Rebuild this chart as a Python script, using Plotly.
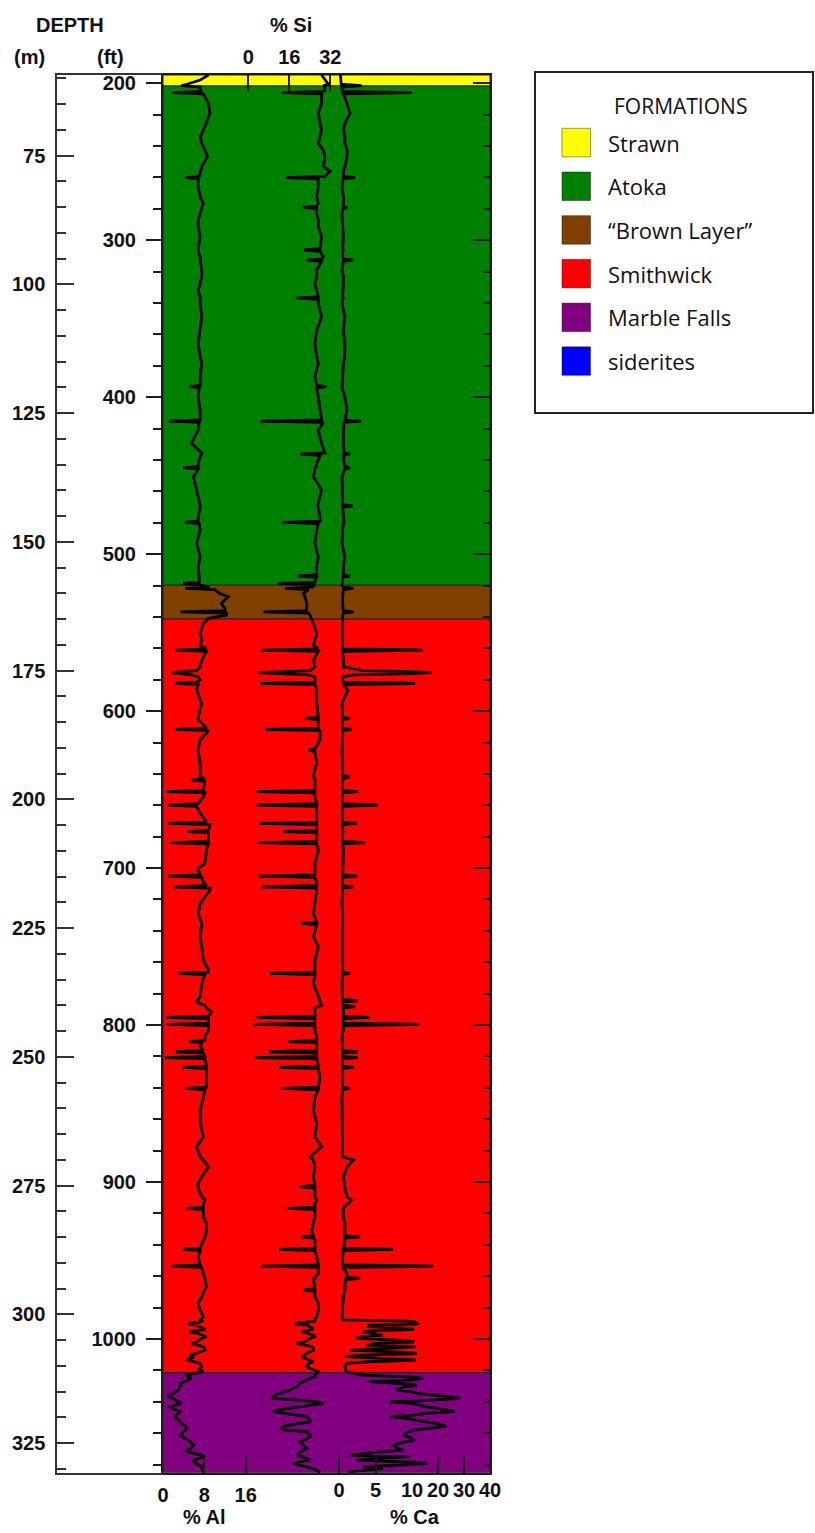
import plotly.graph_objects as go

# ---------------------------------------------------------------------------
# Geochemical log: depth (ft) with % Al, % Si and % Ca readings
# ---------------------------------------------------------------------------
depth_ft = [
    194.7, 197.9, 200.6, 201.5, 202.4, 204.3, 205.1, 205.9, 206.7, 212.8,
    219.1, 225.5, 229.8, 234.0, 238.3, 242.5, 246.8, 253.1, 256.0, 259.3,
    260.1, 260.9, 265.9, 272.2, 276.5, 278.2, 279.0, 279.8, 282.9, 287.1,
    291.4, 297.7, 305.4, 306.2, 307.0, 310.5, 311.8, 312.6, 313.4, 318.9,
    323.2, 327.4, 331.7, 336.0, 336.8, 337.6, 340.2, 348.7, 357.2, 365.7,
    374.2, 378.4, 386.9, 392.5, 393.3, 394.1, 399.7, 408.2, 414.4, 415.2,
    416.0, 420.9, 429.4, 435.5, 436.3, 437.1, 442.1, 444.1, 444.9, 445.7,
    450.6, 459.1, 467.6, 468.5, 469.3, 470.1, 476.1, 478.9, 479.7, 480.5,
    484.6, 493.1, 501.6, 508.0, 513.1, 513.9, 514.7, 517.8, 518.6, 519.4,
    521.0, 521.8, 522.6, 525.0, 527.1, 531.3, 534.5, 535.9, 536.7, 537.5,
    538.8, 540.9, 544.1, 550.5, 554.7, 558.0, 560.3, 561.1, 561.9, 567.4,
    571.7, 574.2, 575.5, 576.8, 578.0, 580.2, 581.5, 582.3, 583.1, 586.6,
    595.1, 603.8, 604.6, 605.4, 610.8, 611.6, 612.4, 618.4, 624.0, 624.8,
    625.6, 633.3, 639.7, 641.0, 641.8, 643.1, 643.9, 644.7, 650.5, 651.3,
    652.1, 654.5, 659.0, 659.8, 660.6, 665.1, 670.7, 671.5, 672.3, 676.0,
    676.8, 677.6, 683.0, 683.8, 684.6, 688.5, 697.0, 700.2, 704.3, 705.1,
    705.9, 708.7, 711.1, 711.9, 712.7, 714.0, 722.5, 728.9, 734.4, 735.2,
    736.0, 743.7, 750.1, 758.6, 765.0, 766.3, 767.1, 767.9, 773.4, 781.9,
    783.7, 784.5, 785.3, 787.5, 788.3, 789.1, 791.5, 794.3, 795.1, 795.9,
    798.8, 799.6, 800.4, 803.2, 807.4, 809.8, 810.6, 811.4, 813.8, 816.2,
    817.0, 817.8, 820.0, 820.8, 821.6, 826.2, 827.0, 827.8, 832.9, 839.6,
    840.4, 841.2, 845.7, 854.2, 862.6, 871.1, 877.5, 883.9, 886.0, 890.3,
    896.6, 900.9, 902.2, 903.0, 903.8, 909.4, 911.5, 914.0, 916.0, 916.8,
    917.6, 922.1, 926.4, 930.6, 934.1, 934.9, 935.7, 937.0, 942.1, 942.9,
    943.7, 947.6, 952.8, 953.6, 954.4, 958.2, 960.6, 961.4, 962.2, 966.7,
    968.0, 968.8, 969.6, 973.1, 977.3, 981.6, 985.8, 987.9, 988.6, 989.5,
    990.3, 991.2, 992.2, 993.1, 993.9, 994.7, 995.4, 996.5, 997.5, 998.6,
    999.6, 1000.7, 1001.8, 1002.8, 1003.9, 1004.9, 1006.0, 1007.1, 1008.1, 1009.2,
    1010.3, 1011.3, 1012.4, 1013.4, 1014.5, 1015.6, 1017.7, 1019.3, 1020.9, 1023.0,
    1024.1, 1025.1, 1027.2, 1028.3, 1029.4, 1030.4, 1032.6, 1034.7, 1035.7, 1036.8,
    1037.9, 1039.0, 1040.0, 1041.0, 1043.2, 1044.2, 1045.3, 1046.3, 1047.4, 1049.5,
    1051.6, 1052.7, 1053.8, 1055.5, 1056.5, 1058.0, 1059.1, 1061.2, 1062.3, 1064.4,
    1065.5, 1067.6, 1069.7, 1070.8, 1071.8, 1073.2, 1074.0, 1075.0, 1076.1, 1077.2,
    1078.2, 1079.3, 1080.4, 1081.4, 1082.5, 1083.5, 1084.6, 1085.2,
]

al_pct = [
    8.8, 7.2, 4.6, 3.6, 7.2, 7.2, 7.5, 1.9, 7.8, 8.8,
    9.1, 8.4, 7.8, 7.2, 7.5, 8.1, 8.6, 7.5, 7.2, 7.0,
    4.4, 6.8, 6.8, 7.2, 7.8, 7.5, 7.5, 7.5, 7.2, 6.8,
    6.8, 7.2, 6.8, 6.8, 6.8, 7.2, 7.2, 7.2, 7.2, 7.5,
    7.5, 7.2, 6.8, 7.2, 7.2, 7.2, 7.2, 7.5, 7.2, 6.8,
    7.2, 7.5, 7.2, 7.2, 5.2, 7.0, 6.8, 7.2, 7.2, 1.2,
    7.0, 6.8, 5.5, 7.5, 7.5, 7.3, 6.8, 6.8, 3.9, 6.8,
    5.9, 6.5, 7.2, 7.2, 7.2, 7.2, 6.8, 6.8, 4.3, 7.0,
    7.2, 6.5, 7.2, 6.8, 7.0, 7.0, 7.0, 7.0, 3.9, 6.8,
    9.0, 4.3, 10.0, 11.0, 12.6, 11.3, 12.0, 12.0, 3.4, 12.3,
    12.3, 8.8, 7.8, 7.2, 7.5, 7.2, 8.4, 2.3, 8.4, 7.5,
    7.2, 6.5, 1.7, 5.2, 6.8, 7.2, 6.5, 2.3, 6.8, 6.5,
    7.5, 6.8, 6.8, 6.8, 8.4, 2.3, 8.8, 7.2, 6.8, 6.8,
    6.8, 7.2, 7.2, 7.2, 7.2, 8.1, 5.5, 8.1, 7.8, 0.7,
    8.1, 7.8, 6.8, 1.0, 6.5, 7.2, 8.4, 1.0, 9.1, 8.8,
    4.9, 8.8, 8.8, 1.4, 8.8, 8.4, 8.1, 6.8, 7.2, 1.0,
    7.5, 7.8, 8.4, 2.0, 9.1, 9.1, 7.2, 6.8, 7.5, 7.5,
    7.5, 7.2, 7.5, 7.8, 8.8, 8.8, 3.0, 8.1, 7.5, 7.2,
    6.8, 6.5, 6.5, 8.1, 8.3, 8.4, 9.4, 8.8, 0.7, 8.8,
    8.8, 0.7, 8.8, 8.8, 8.1, 8.1, 5.1, 7.5, 7.2, 7.8,
    2.5, 7.8, 8.1, 0.4, 8.1, 8.4, 3.8, 8.4, 8.4, 8.4,
    4.3, 8.1, 7.8, 7.2, 7.2, 7.8, 6.5, 7.2, 7.8, 8.8,
    7.5, 6.8, 6.8, 6.8, 6.8, 7.5, 8.1, 7.8, 7.8, 4.6,
    7.8, 7.8, 8.4, 8.4, 8.1, 8.1, 8.1, 7.8, 7.2, 3.9,
    7.2, 6.8, 7.2, 1.7, 7.5, 7.8, 8.1, 8.1, 8.1, 8.4,
    8.2, 8.0, 7.9, 7.5, 6.8, 7.2, 7.8, 7.2, 7.5, 7.0,
    4.9, 6.5, 7.0, 7.8, 8.1, 6.5, 5.2, 6.8, 7.5, 8.4,
    7.5, 7.0, 6.5, 5.5, 6.8, 7.8, 8.0, 8.1, 7.2, 6.5,
    5.2, 6.0, 5.5, 4.6, 6.0, 7.2, 7.5, 7.0, 7.8, 4.3,
    5.0, 5.5, 4.0, 3.3, 3.5, 3.2, 2.9, 2.0, 1.5, 1.0,
    2.0, 2.5, 2.9, 3.5, 1.4, 1.7, 2.5, 3.3, 3.0, 2.3,
    3.0, 3.3, 3.6, 4.3, 4.6, 4.4, 4.0, 3.3, 3.8, 4.9,
    5.3, 5.9, 5.4, 4.8, 4.6, 6.5, 7.5, 8.1, 7.0, 5.9,
    5.9, 6.5, 7.0, 7.5, 7.5, 7.7, 7.8, 7.8,
]

si_pct = [
    28.6, 29.9, 31.2, 29.3, 29.9, 29.9, 29.3, 13.0, 28.6, 28.6,
    27.3, 28.0, 28.6, 28.0, 27.3, 29.3, 29.9, 29.3, 31.9, 29.9,
    14.7, 27.3, 27.3, 26.7, 27.3, 26.7, 21.2, 26.7, 26.7, 27.3,
    27.3, 28.6, 28.0, 21.8, 28.0, 29.3, 28.6, 22.8, 28.6, 26.7,
    26.7, 26.0, 26.7, 27.3, 18.9, 27.3, 27.3, 28.6, 26.7, 26.0,
    26.7, 27.3, 26.0, 26.7, 30.6, 26.7, 27.3, 28.0, 28.6, 4.6,
    29.3, 27.3, 28.6, 29.9, 20.2, 28.0, 26.7, 26.7, 26.0, 26.0,
    25.4, 28.6, 27.3, 27.3, 27.0, 27.3, 28.0, 28.0, 13.4, 27.3,
    26.7, 26.0, 27.3, 26.7, 26.7, 19.5, 26.7, 26.0, 11.7, 26.0,
    25.0, 14.3, 23.5, 21.5, 22.1, 22.8, 22.8, 22.8, 5.9, 23.5,
    24.1, 24.7, 25.4, 26.7, 26.0, 25.4, 27.3, 5.2, 27.3, 25.4,
    26.0, 24.1, 3.9, 22.8, 26.0, 26.0, 26.0, 4.6, 26.0, 26.7,
    26.7, 27.3, 22.1, 27.3, 27.3, 6.5, 28.0, 28.0, 26.0, 23.4,
    26.0, 26.7, 25.4, 25.4, 25.4, 26.0, 26.0, 26.0, 26.0, 3.3,
    26.0, 26.0, 26.7, 3.3, 26.7, 26.7, 26.7, 4.6, 26.7, 26.7,
    13.7, 26.7, 26.7, 3.5, 26.7, 27.3, 26.0, 26.0, 26.0, 3.9,
    26.0, 26.7, 26.7, 5.0, 26.7, 26.7, 26.0, 25.4, 26.7, 20.8,
    26.7, 25.4, 27.3, 26.0, 26.0, 26.0, 8.5, 26.0, 25.4, 27.3,
    28.0, 28.0, 28.0, 28.6, 27.0, 26.0, 26.0, 26.0, 3.3, 26.0,
    26.0, 2.0, 26.0, 26.0, 26.7, 26.7, 15.6, 26.7, 26.7, 26.7,
    8.2, 26.7, 26.7, 2.6, 26.7, 27.3, 12.1, 27.3, 28.0, 27.3,
    12.8, 27.3, 26.0, 25.4, 26.7, 26.0, 28.6, 24.1, 25.4, 26.0,
    25.4, 26.0, 26.0, 20.2, 26.0, 26.0, 26.7, 26.0, 26.0, 15.0,
    26.0, 26.0, 25.4, 24.7, 25.4, 20.8, 25.4, 26.0, 26.0, 12.1,
    26.0, 26.7, 27.3, 5.2, 27.3, 27.3, 26.0, 26.0, 25.4, 26.0,
    26.0, 21.5, 26.0, 26.0, 27.3, 27.3, 26.7, 26.0, 26.0, 22.0,
    18.2, 23.0, 24.1, 25.0, 25.0, 23.0, 20.8, 23.5, 25.4, 26.0,
    24.0, 23.0, 22.0, 18.9, 23.0, 25.0, 25.4, 25.4, 24.0, 23.0,
    21.5, 20.8, 22.5, 24.0, 25.4, 23.5, 22.8, 25.0, 27.3, 26.0,
    26.0, 24.0, 21.5, 20.0, 19.5, 18.9, 16.0, 12.4, 10.5, 9.8,
    9.1, 20.0, 27.0, 29.3, 20.0, 16.3, 11.1, 9.8, 15.0, 22.8,
    24.1, 24.1, 20.0, 14.0, 13.0, 14.0, 22.8, 24.1, 24.1, 22.0,
    20.2, 21.5, 22.8, 21.5, 20.5, 19.5, 19.5, 21.0, 23.0, 24.1,
    20.0, 17.6, 20.0, 23.0, 25.4, 26.5, 27.9, 28.0,
]

ca_pct = [
    0.2, 0.2, 0.3, 3.1, 0.4, 0.4, 0.5, 10.0, 0.6, 1.1,
    1.5, 0.8, 0.6, 0.8, 0.8, 1.1, 1.1, 0.8, 0.6, 0.6,
    2.2, 0.6, 0.4, 0.6, 0.6, 0.6, 1.1, 0.6, 0.4, 0.4,
    0.5, 0.6, 0.5, 0.6, 0.5, 0.5, 0.6, 2.0, 0.6, 0.4,
    0.6, 0.6, 0.5, 0.5, 0.6, 0.5, 0.4, 0.8, 0.6, 0.8,
    0.8, 0.6, 0.5, 0.4, 0.4, 0.4, 0.8, 1.1, 0.8, 3.0,
    0.7, 0.6, 0.6, 0.7, 1.5, 0.6, 0.7, 0.8, 1.5, 0.8,
    0.4, 0.5, 0.5, 0.5, 1.9, 0.5, 0.6, 0.6, 0.7, 0.6,
    0.5, 0.4, 0.8, 0.6, 0.6, 1.5, 0.5, 0.5, 0.5, 0.4,
    0.6, 2.0, 0.6, 0.5, 0.5, 0.5, 0.6, 0.6, 2.0, 0.6,
    0.5, 0.5, 0.6, 0.6, 0.6, 0.5, 0.5, 14.1, 0.5, 0.6,
    0.6, 3.3, 17.6, 2.4, 0.6, 0.5, 0.6, 11.2, 0.6, 1.2,
    0.4, 0.5, 1.5, 0.5, 0.5, 1.7, 0.5, 0.5, 0.4, 0.5,
    0.4, 0.5, 0.5, 0.5, 1.5, 0.5, 0.5, 0.5, 0.5, 2.6,
    0.5, 0.5, 0.5, 5.3, 0.5, 0.5, 0.5, 2.4, 0.5, 0.5,
    0.6, 0.5, 0.5, 3.6, 0.5, 0.6, 0.5, 0.5, 0.5, 2.6,
    0.5, 0.5, 0.5, 2.0, 0.5, 0.5, 0.4, 0.5, 0.5, 0.5,
    0.5, 0.5, 0.4, 0.4, 0.5, 0.5, 1.5, 0.5, 0.4, 0.4,
    0.5, 2.6, 0.5, 0.6, 2.2, 0.6, 0.6, 0.6, 4.2, 0.6,
    0.6, 12.8, 0.6, 0.6, 0.4, 0.4, 0.4, 0.4, 0.5, 0.5,
    2.6, 0.5, 0.5, 2.6, 0.5, 0.5, 2.0, 0.5, 0.5, 0.5,
    1.5, 0.5, 0.4, 0.4, 0.5, 0.4, 0.5, 0.5, 2.0, 1.1,
    0.6, 0.8, 0.8, 0.8, 0.8, 1.1, 1.7, 1.1, 0.7, 0.6,
    0.6, 0.6, 0.8, 0.8, 0.8, 2.9, 0.8, 0.8, 0.6, 7.4,
    0.6, 0.5, 0.5, 18.2, 0.5, 1.1, 1.0, 2.9, 0.9, 0.8,
    0.8, 0.8, 0.8, 0.6, 0.5, 0.4, 0.4, 0.6, 9.3, 11.8,
    12.0, 4.1, 4.0, 9.0, 10.8, 5.0, 3.3, 4.5, 6.0, 3.0,
    2.4, 8.0, 10.8, 5.0, 3.8, 11.3, 6.0, 1.5, 7.0, 11.8,
    3.0, 0.8, 6.0, 11.3, 4.0, 1.0, 0.8, 0.9, 1.0, 3.3,
    9.0, 14.4, 4.2, 8.0, 11.8, 9.0, 7.9, 12.0, 18.2, 24.0,
    28.5, 15.0, 7.0, 10.0, 15.6, 20.0, 24.0, 26.5, 15.0, 7.0,
    11.0, 15.6, 19.0, 23.3, 18.0, 10.5, 9.5, 8.8, 9.5, 10.5,
    9.0, 7.4, 8.0, 8.8, 6.0, 3.0, 1.5, 9.7, 5.0, 2.4,
    9.0, 15.6, 8.0, 3.3, 6.0, 4.2, 1.5, 1.5,
]

# Formation legend entries
formation_names = ["Strawn", "Atoka", "“Brown Layer”", "Smithwick", "Marble Falls", "siderites"]
formation_colors = ["#ffff00", "#008000", "#804000", "#ff0000", "#800080", "#0000ff"]

# Formation intervals shaded behind the logs (ft)
interval_names = ["Strawn", "Atoka", "“Brown Layer”", "Smithwick", "Marble Falls"]
interval_top_ft = [194.7, 201.7, 519.8, 541.3, 1021.5]
interval_base_ft = [201.7, 519.8, 541.3, 1021.5, 1085.2]

# Scale ticks
al_ticks = [0, 8, 16]
si_ticks = [0, 16, 32]
ca_low_ticks = [0, 5, 10]
ca_high_ticks = [20, 30, 40]

assert len(depth_ft) == len(al_pct) == len(si_pct) == len(ca_pct)

# ---------------------------------------------------------------------------
# Page geometry (pixels) and helpers
# ---------------------------------------------------------------------------
W, H = 815, 1533
FT_PER_M = 3.28084
DEPTH_TOP_FT, DEPTH_BASE_FT = 194.7, 1085.2

PLOT_L, PLOT_R, PLOT_T, PLOT_B = 163, 490, 75, 1472.7
MBOX_L = 57.3
AL_PX_PER_PCT = 5.17
SI_ZERO_PX, SI_PX_PER_PCT = 248.3, 2.5625
CA_ZERO_PX, CA_LOW_PX_PER_PCT = 339.0, 7.3
CA_BREAK_PX, CA_LEFT_PX = 412.0, 300.0
CA_BREAK_PCT, CA_MAX_PCT = 10, 40


def fx(p):
    return p / W


def fy(p):
    return 1 - p / H


AX = "#1c1c1c"
BOLD = dict(family="Liberation Sans, Arial, sans-serif", size=20, color="#111111", weight="bold")
LEG_FONT = dict(family="Open Sans, sans-serif", size=22, color="#111111")

fig = go.Figure()

log_line = dict(color="black", width=2.8)
fig.add_trace(go.Scatter(x=al_pct, y=depth_ft, xaxis="x", yaxis="y", mode="lines",
                         line=log_line, name="% Al", hoverinfo="skip"))
fig.add_trace(go.Scatter(x=si_pct, y=depth_ft, xaxis="x2", yaxis="y", mode="lines",
                         line=log_line, name="% Si", hoverinfo="skip"))
# % Ca uses a split scale: 0-10 % on one segment, 10-40 % on the next
fig.add_trace(go.Scatter(x=ca_pct, y=depth_ft, xaxis="x3", yaxis="y", mode="lines",
                         line=log_line, name="% Ca", hoverinfo="skip"))
fig.add_trace(go.Scatter(x=ca_pct, y=depth_ft, xaxis="x4", yaxis="y", mode="lines",
                         line=log_line, name="% Ca (10-40)", hoverinfo="skip"))
# metre scale companion axis
fig.add_trace(go.Scatter(x=[0.5, 0.5], y=[DEPTH_TOP_FT / FT_PER_M, DEPTH_BASE_FT / FT_PER_M],
                         xaxis="x5", yaxis="y2", mode="lines", opacity=0,
                         line=dict(width=0), hoverinfo="skip"))
fig.add_trace(go.Scatter(x=[None], y=[None], xaxis="x", yaxis="y3", mode="lines",
                         hoverinfo="skip"))

y_dom = [fy(PLOT_B), fy(PLOT_T)]
x_dom = [fx(PLOT_L), fx(PLOT_R)]
width_px = PLOT_R - PLOT_L

common_x = dict(showgrid=False, zeroline=False, ticks="inside", ticklen=16, tickwidth=1.5,
                tickcolor=AX, tickfont=BOLD, tickangle=0, fixedrange=True, automargin=False)

fig.update_layout(
    template="none",
    width=W, height=H,
    margin=dict(l=0, r=0, t=0, b=0),
    paper_bgcolor="white",
    plot_bgcolor="rgba(0,0,0,0)",
    showlegend=False,
    xaxis=dict(domain=x_dom, anchor="y", range=[0, width_px / AL_PX_PER_PCT],
               tickmode="array", tickvals=al_ticks, ticktext=[str(v) for v in al_ticks],
               showline=True, mirror=True, linecolor=AX, linewidth=2, side="bottom",
               ticklabelstandoff=3, **common_x),
    xaxis2=dict(overlaying="x", anchor="y", side="top",
                range=[(PLOT_L - SI_ZERO_PX) / SI_PX_PER_PCT, (PLOT_R - SI_ZERO_PX) / SI_PX_PER_PCT],
                tickmode="array", tickvals=si_ticks, ticktext=[str(v) for v in si_ticks],
                showline=False, ticklabelstandoff=6, **common_x),
    xaxis3=dict(domain=[fx(CA_LEFT_PX), fx(CA_BREAK_PX)], anchor="y", side="bottom",
                range=[(CA_LEFT_PX - CA_ZERO_PX) / CA_LOW_PX_PER_PCT, CA_BREAK_PCT],
                tickmode="array", tickvals=ca_low_ticks, ticktext=[str(v) for v in ca_low_ticks],
                showline=False, ticklabelstandoff=3, **common_x),
    xaxis4=dict(domain=[fx(CA_BREAK_PX), fx(PLOT_R)], anchor="y", side="bottom",
                range=[CA_BREAK_PCT, CA_MAX_PCT],
                tickmode="array", tickvals=ca_high_ticks, ticktext=[str(v) for v in ca_high_ticks],
                showline=False, ticklabelstandoff=3, **common_x),
    xaxis5=dict(domain=[fx(MBOX_L), fx(PLOT_L)], anchor="y2", range=[0, 1],
                showline=True, mirror=True, linecolor="#333333", linewidth=2,
                showgrid=False, zeroline=False, ticks="", showticklabels=False,
                fixedrange=True, automargin=False),
    yaxis=dict(domain=y_dom, anchor="x", side="left", range=[DEPTH_BASE_FT, DEPTH_TOP_FT],
               showline=True, mirror=True, linecolor=AX, linewidth=2,
               showgrid=False, zeroline=False,
               tickmode="linear", tick0=200, dtick=100,
               ticks="outside", ticklen=15, tickwidth=1.5, tickcolor=AX,
               minor=dict(ticks="outside", ticklen=8, tickwidth=1.5, tickcolor=AX,
                          tick0=200, dtick=20, showgrid=False),
               tickfont=BOLD, ticklabelstandoff=6, fixedrange=True, automargin=False),
    yaxis3=dict(overlaying="y", anchor="x", side="right", range=[DEPTH_BASE_FT, DEPTH_TOP_FT],
                showline=False, showgrid=False, zeroline=False,
                tickmode="linear", tick0=200, dtick=100,
                ticks="inside", ticklen=17, tickwidth=1.5, tickcolor=AX,
                minor=dict(ticks="inside", ticklen=7, tickwidth=1.5, tickcolor=AX,
                           tick0=200, dtick=20, showgrid=False),
                showticklabels=False, fixedrange=True, automargin=False),
    yaxis2=dict(domain=y_dom, anchor="x5", side="left",
                range=[DEPTH_BASE_FT / FT_PER_M, DEPTH_TOP_FT / FT_PER_M],
                showline=True, linecolor="#333333", linewidth=2,
                showgrid=False, zeroline=False,
                tickmode="linear", tick0=0, dtick=25,
                ticks="inside", ticklen=17, tickwidth=1.5, tickcolor="#333333",
                minor=dict(ticks="inside", ticklen=9, tickwidth=1.5, tickcolor="#333333",
                           tick0=0, dtick=5, showgrid=False),
                tickfont=BOLD, ticklabelstandoff=6, fixedrange=True, automargin=False),
)

# Formation intervals behind the logs
color_of = dict(zip(formation_names, formation_colors))
shapes = []
for name, top, base in zip(interval_names, interval_top_ft, interval_base_ft):
    shapes.append(dict(type="rect", xref="paper", yref="y", layer="below",
                       x0=fx(PLOT_L), x1=fx(PLOT_R), y0=top, y1=base,
                       fillcolor=color_of[name], line=dict(color="#222222", width=1)))

# Formation legend (boxed, swatches + labels)
LEG_L, LEG_R, LEG_T, LEG_B = 535, 813, 72, 413
shapes.append(dict(type="rect", xref="paper", yref="paper", layer="above",
                   x0=fx(LEG_L), x1=fx(LEG_R), y0=fy(LEG_B), y1=fy(LEG_T),
                   fillcolor="rgba(0,0,0,0)", line=dict(color="#222222", width=2)))
annotations = [dict(text="FORMATIONS", x=fx(680), y=fy(106), xref="paper", yref="paper",
                    showarrow=False, xanchor="center", yanchor="middle",
                    font=dict(LEG_FONT, size=21))]
SW_L, SW_SIZE, SW_TOP0, SW_STEP = 562, 28.5, 128.3, 43.7
for i, (name, col) in enumerate(zip(formation_names, formation_colors)):
    top = SW_TOP0 + i * SW_STEP
    shapes.append(dict(type="rect", xref="paper", yref="paper", layer="above",
                       x0=fx(SW_L), x1=fx(SW_L + SW_SIZE), y0=fy(top + SW_SIZE), y1=fy(top),
                       fillcolor=col, line=dict(color="rgba(0,0,0,0.4)", width=1)))
    annotations.append(dict(text=name, x=fx(606), y=fy(top + SW_SIZE / 2), xref="paper", yref="paper",
                            showarrow=False, xanchor="left", yanchor="middle", font=LEG_FONT))

# Track and axis titles
for txt, x, y in [("DEPTH", 70, 25), ("(m)", 29, 57), ("(ft)", 110, 57),
                  ("% Si", 290.5, 25), ("% Al", 204, 1517), ("% Ca", 415, 1517)]:
    annotations.append(dict(text=txt, x=fx(x), y=fy(y), xref="paper", yref="paper",
                            showarrow=False, xanchor="center", yanchor="middle", font=BOLD))

fig.update_layout(shapes=shapes, annotations=annotations)

fig.write_html("out.html")
